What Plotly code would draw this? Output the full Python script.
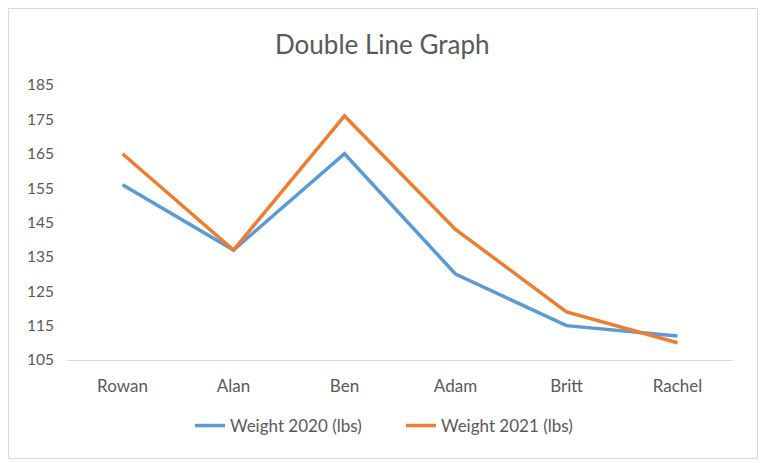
import plotly.graph_objects as go

names = ["Rowan", "Alan", "Ben", "Adam", "Britt", "Rachel"]
weight_2020 = [156, 137, 165, 130, 115, 112]
weight_2021 = [165, 137, 176, 143, 119, 110]
y_ticks = [105, 115, 125, 135, 145, 155, 165, 175, 185]

# the page body adds an 8px margin, so the figure edge is the chart border
W, H = 750, 451
L, R, T, B = 59, 25, 77, 99
pw, ph = W - L - R, H - T - B

grey = "#595959"
font = "Lato"

fig = go.Figure()
fig.add_trace(go.Scatter(x=names, y=weight_2020, mode="lines",
                         name="Weight 2020 (lbs)",
                         line=dict(color="#5B9BD5", width=3.5)))
fig.add_trace(go.Scatter(x=names, y=weight_2021, mode="lines",
                         name="Weight 2021 (lbs)",
                         line=dict(color="#ED7D31", width=3.5)))

# outer chart border
fig.add_shape(type="rect", xref="paper", yref="paper",
              x0=(0.5 - L) / pw, x1=(W - 0.5 - L) / pw,
              y0=(0.5 - B) / ph, y1=(H - 0.5 - B) / ph,
              line=dict(color="#D9D9D9", width=1))

fig.update_layout(
    width=W, height=H,
    margin=dict(l=L, r=R, t=T, b=B),
    paper_bgcolor="white", plot_bgcolor="white",
    font=dict(family=font, color=grey, size=15),
    title=dict(text="Double Line Graph", x=0.499, xanchor="center",
               y=(H - 37) / H, yanchor="middle",
               font=dict(size=26, color=grey)),
    showlegend=True,
    legend=dict(orientation="h", x=(393 - L) / pw, xanchor="center",
                y=-(418 - (H - B)) / ph, yanchor="middle",
                entrywidth=166, font=dict(size=17, color=grey)),
    xaxis=dict(range=[-0.5, 5.5], showgrid=False, showline=True,
               linecolor="#D9D9D9", linewidth=1, ticks="",
               tickfont=dict(size=17), ticklabelstandoff=11),
    yaxis=dict(range=[105, 185], tickvals=y_ticks, showgrid=False,
               zeroline=False, showline=False, ticks="",
               tickfont=dict(size=15.5), ticklabelstandoff=12),
)

fig.write_html("out.html")
